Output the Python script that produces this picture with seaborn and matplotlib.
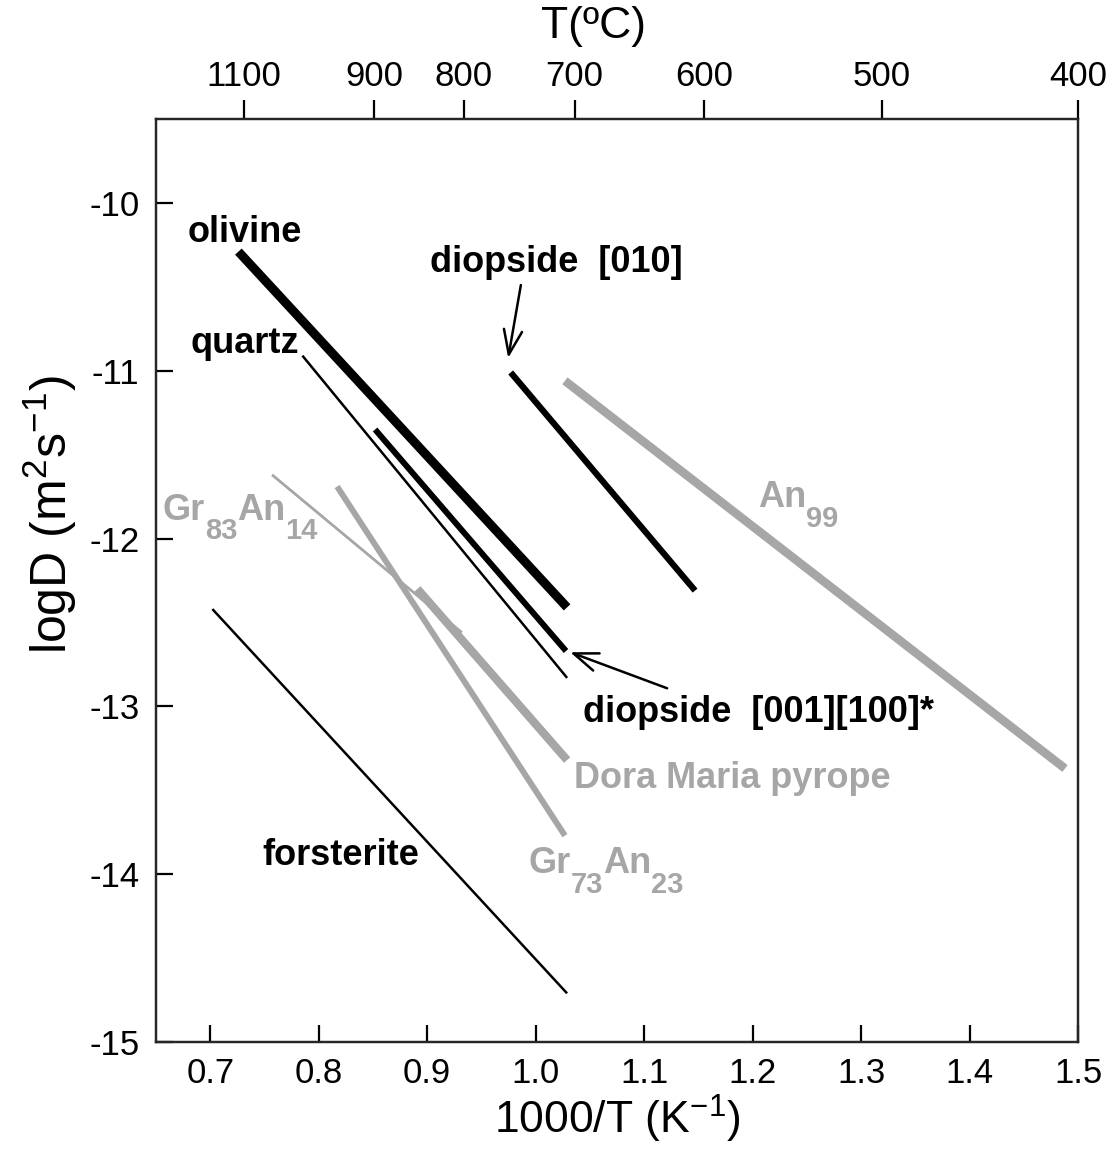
# Arrhenius plot of diffusion coefficients

import numpy as np
import pandas as pd
import matplotlib
matplotlib.use("Agg")
import matplotlib.pyplot as plt
import seaborn as sns

# Data: each mineral is a straight line segment
minerals = ["olivine", "quartz", "diopside [001][100]*", "diopside [010]",
            "forsterite", "An99", "Gr83An14", "Dora Maria pyrope", "Gr73An23"]
x_start = [0.726, 0.785, 0.852, 0.977, 0.702, 1.027, 0.757, 0.891, 0.817]
x_end = [1.029, 1.029, 1.028, 1.147, 1.029, 1.488, 0.932, 1.029, 1.027]
logd_start = [-10.29, -10.91, -11.35, -11.01, -12.42, -11.06, -11.62, -12.30, -11.69]
logd_end = [-12.41, -12.83, -12.67, -12.31, -14.71, -13.37, -12.56, -13.32, -13.77]

# bottom / top axis ticks
x_ticks = [0.7, 0.8, 0.9, 1.0, 1.1, 1.2, 1.3, 1.4, 1.5]
y_ticks = [-15, -14, -13, -12, -11, -10]
top_celsius = [1100, 900, 800, 700, 600, 500, 400]
top_pos = [0.731, 0.851, 0.934, 1.036, 1.155, 1.319, 1.5]

# styles
BLACK = "black"
GRAY = "#a6a6a6"
line_color = {"olivine": BLACK, "quartz": BLACK, "diopside [001][100]*": BLACK,
              "diopside [010]": BLACK, "forsterite": BLACK, "An99": GRAY,
              "Gr83An14": GRAY, "Dora Maria pyrope": GRAY, "Gr73An23": GRAY}
line_width = {"olivine": 6.5, "quartz": 1.8, "diopside [001][100]*": 4.3,
              "diopside [010]": 4.5, "forsterite": 1.8, "An99": 6.2,
              "Gr83An14": 2.0, "Dora Maria pyrope": 6.0, "Gr73An23": 4.3}

df = pd.DataFrame({
    "mineral": minerals * 2,
    "x": x_start + x_end,
    "logD": logd_start + logd_end,
})

sns.set_theme(style="ticks")
plt.rcParams["font.family"] = ["Liberation Sans", "DejaVu Sans"]
plt.rcParams["text.color"] = "black"
plt.rcParams["axes.labelcolor"] = "black"
plt.rcParams["mathtext.fontset"] = "custom"
plt.rcParams["mathtext.rm"] = "Liberation Sans"
plt.rcParams["mathtext.bf"] = "Liberation Sans:bold"
plt.rcParams["mathtext.it"] = "Liberation Sans:italic"
plt.rcParams["mathtext.default"] = "rm"

fig = plt.figure(figsize=(11.14, 11.49), dpi=100)
ax = fig.add_axes([0.140, 0.0931, 0.8277, 0.8033])

for m in minerals:
    sub = df[df["mineral"] == m]
    sns.lineplot(data=sub, x="x", y="logD", ax=ax, color=line_color[m],
                 lw=line_width[m], solid_capstyle="butt", estimator=None)

ax.set_xlim(0.65, 1.5)
ax.set_ylim(-15, -9.5)
ax.set_xticks(x_ticks, [f"{v:.1f}" for v in x_ticks])
ax.set_yticks(y_ticks, [str(v) for v in y_ticks])
ax.tick_params(axis="both", direction="in", length=12, width=1.6,
               labelsize=25, colors="black")
ax.tick_params(axis="x", pad=11)
ax.tick_params(axis="y", pad=12)
for s in ax.spines.values():
    s.set_linewidth(1.6)
    s.set_color("black")

ax.set_xlabel("1000/T (K$^{-1}$)", fontsize=32, labelpad=2)
ax.set_ylabel("logD (m$^{2}$s$^{-1}$)", fontsize=36)
ax.yaxis.set_label_coords(-0.084, 0.571)

# top temperature axis
ax2 = ax.twiny()
ax2.set_xlim(ax.get_xlim())
ax2.set_xticks(top_pos, [str(t) for t in top_celsius])
ax2.tick_params(axis="x", direction="out", length=14, width=1.6,
                labelsize=25, pad=5, colors="black")
ax2.set_xlabel("T(ºC)", fontsize=32)
ax2.xaxis.set_label_coords(0.474, 1.088)
for s in ax2.spines.values():
    s.set_linewidth(1.6)

# labels
lab_kw = dict(fontsize=26, fontweight="bold", va="baseline", ha="left")
ax.text(0.679, -10.233, "olivine", color=BLACK, **lab_kw)
ax.text(0.682, -10.894, "quartz", color=BLACK, **lab_kw)
ax.text(0.903, -10.411, "diopside  [010]", color=BLACK, **lab_kw)
ax.text(1.044, -13.095, "diopside  [001][100]*", color=BLACK, **lab_kw)
ax.text(0.748, -13.948, "forsterite", color=BLACK, **lab_kw)
ax.text(1.035, -13.488, "Dora Maria pyrope", color=GRAY, **lab_kw)


def sub_label(x, y, parts, color):
    # parts alternate: normal, subscript, normal, subscript ...
    drop = 12.5
    prev = ax.text(x, y, parts[0], color=color, fontsize=26, fontweight="bold",
                   va="baseline", ha="left")
    for i, p in enumerate(parts[1:]):
        is_sub = i % 2 == 0
        prev = ax.annotate(p, xy=(1, 0), xycoords=prev,
                           xytext=(0, -drop if is_sub else drop),
                           textcoords="offset points", va="bottom", ha="left",
                           color=color, fontweight="bold",
                           fontsize=21 if is_sub else 26)


sub_label(0.656, -11.890, ["Gr", "83", "An", "14"], GRAY)
sub_label(0.993, -13.995, ["Gr", "73", "An", "23"], GRAY)
sub_label(1.205, -11.813, ["An", "99"], GRAY)

arrow_kw = dict(arrowstyle="->,head_length=0.8,head_width=0.3", lw=1.8,
                color="black", shrinkA=0, shrinkB=0, mutation_scale=22)
ax.annotate("", xy=(0.9747, -10.924), xytext=(0.9864, -10.489), arrowprops=arrow_kw)
ax.annotate("", xy=(1.0318, -12.677), xytext=(1.1212, -12.892), arrowprops=arrow_kw)

fig.savefig("out.png", dpi=100)
